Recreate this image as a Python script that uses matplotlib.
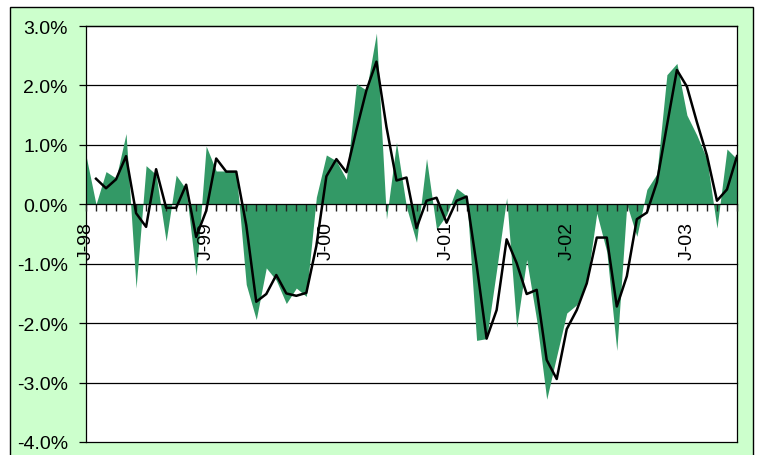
import numpy as np
import matplotlib
matplotlib.use("Agg")
import matplotlib.pyplot as plt
from matplotlib.patches import Rectangle
from matplotlib.ticker import FuncFormatter, MultipleLocator

# ---------- DATA --------------
# monthly values, Jan 1998 .. Jun 2003 (in %)
area_vals = [0.82, 0.00, 0.55, 0.44, 1.19, -1.41, 0.65, 0.50, -0.62, 0.49,
             0.25, -1.20, 0.98, 0.56, 0.56, 0.56, -1.35, -1.94, -1.07, -1.28,
             -1.67, -1.41, -1.55, 0.12, 0.83, 0.73, 0.42, 2.03, 1.92, 2.88,
             -0.25, 1.04, -0.05, -0.64, 0.77, -0.42, -0.18, 0.27, 0.14, -2.29,
             -2.26, -1.10, 0.11, -2.07, -0.93, -1.95, -3.28, -2.55, -1.83, -1.69,
             -1.33, -0.15, -0.80, -2.46, 0.00, -0.54, 0.25, 0.51, 2.18, 2.37,
             1.50, 1.16, 0.76, -0.40, 0.93, 0.76]
line_vals = [np.nan, 0.43, 0.27, 0.42, 0.81, -0.15, -0.38, 0.59, -0.06, -0.06,
             0.33, -0.55, -0.11, 0.77, 0.55, 0.55, -0.35, -1.64, -1.51, -1.19,
             -1.50, -1.54, -1.49, -0.70, 0.47, 0.76, 0.54, 1.25, 1.92, 2.40,
             1.30, 0.40, 0.45, -0.40, 0.06, 0.11, -0.31, 0.06, 0.13, -1.02,
             -2.26, -1.78, -0.59, -0.99, -1.51, -1.44, -2.62, -2.94, -2.10, -1.78,
             -1.33, -0.56, -0.56, -1.72, -1.21, -0.25, -0.14, 0.37, 1.32, 2.26,
             1.98, 1.38, 0.82, 0.06, 0.25, 0.81]
year_labels = ["J-98", "J-99", "J-00", "J-01", "J-02", "J-03"]
grid_levels = [-4, -3, -2, -1, 1, 2, 3]
# ------------------------------

# ---------- CONFIG ------------
green = "#339966"
bg = "#CCFFCC"
plt.rcParams['font.family'] = ['Liberation Sans', 'DejaVu Sans']
# ------------------------------

x = np.arange(len(area_vals))

fig = plt.figure(figsize=(7.58, 4.56), dpi=100, facecolor="white")
frame = Rectangle((10 / 758, -0.05), 743 / 758, 1 - 8 / 456 + 0.05,
                  transform=fig.transFigure, facecolor=bg,
                  edgecolor="black", linewidth=1, zorder=-10)
fig.add_artist(frame)

ax = fig.add_axes([86 / 758, 1 - 443 / 456, 651 / 758, 416 / 456])
ax.set_zorder(5)
ax.set_facecolor("white")
ax.set_axisbelow(False)  # tick labels must sit over the green area

# gridlines by hand so they sit under the area
for g in grid_levels:
    ax.axhline(g, color="black", linewidth=0.9, clip_on=False, zorder=1)

ax.fill_between(x, area_vals, 0, color=green, linewidth=0, zorder=2)
ax.plot(x, line_vals, color="black", linewidth=1.8, zorder=3)

ax.set_xlim(0, len(area_vals) - 1)
ax.set_ylim(-4, 3)

ax.yaxis.set_major_locator(MultipleLocator(1))
ax.yaxis.set_major_formatter(FuncFormatter(lambda v, p: f"{v:.1f}%"))

ax.set_xticks(np.arange(0, len(area_vals), 12))
ax.set_xticklabels(year_labels)
ax.set_xticks(x, minor=True)

ax.spines["bottom"].set_position(("data", 0))
ax.spines["bottom"].set_zorder(4)
for s in ax.spines.values():
    s.set_color("black")
    s.set_linewidth(0.9)

ax.tick_params(axis="x", which="both", direction="out", length=5, width=1.0,
               color="#222222", labelsize=14, pad=7, labelrotation=90)
ax.tick_params(axis="y", direction="out", length=5, width=0.9, labelsize=14, pad=8)

fig.savefig("out.png", dpi=100, facecolor=fig.get_facecolor())
